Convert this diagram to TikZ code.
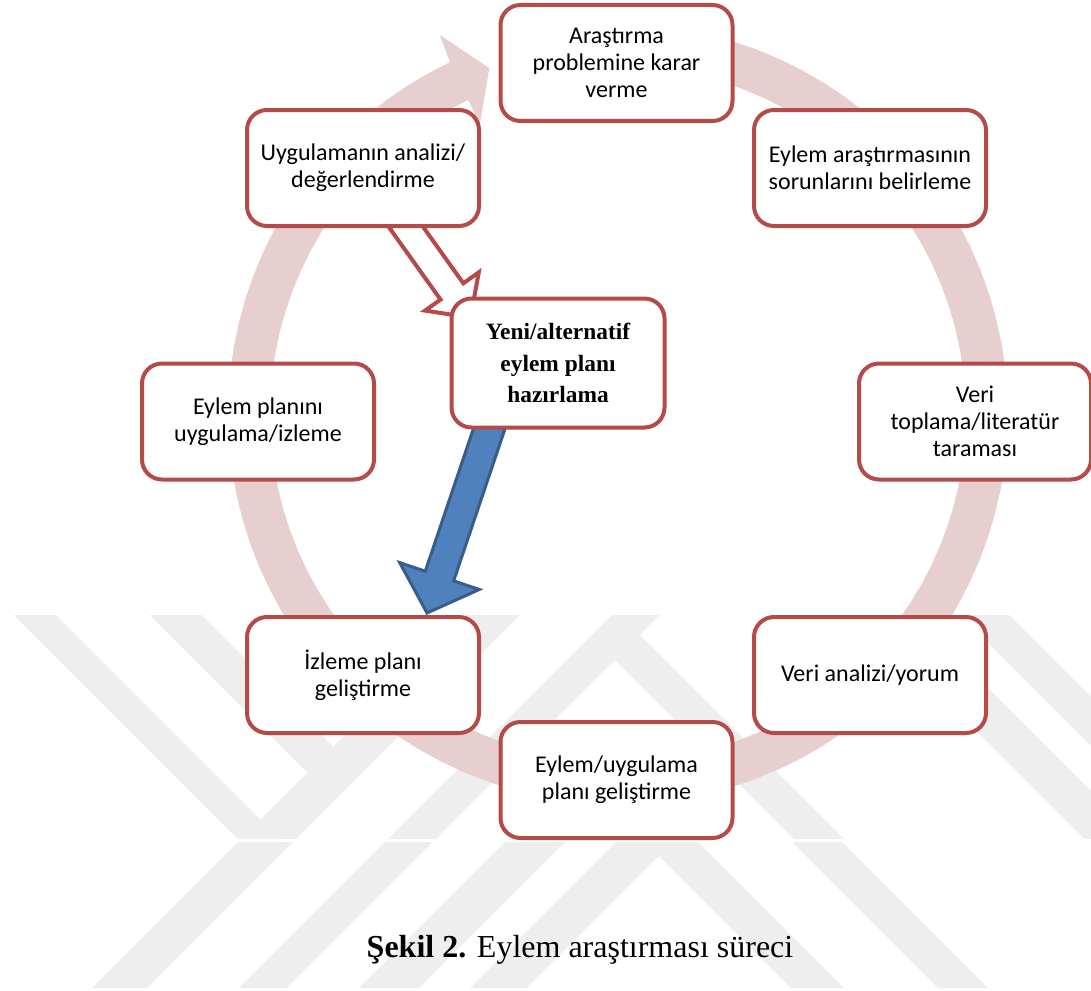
\documentclass[tikz,border=0pt]{standalone}
\usepackage{fontspec}
\setmainfont{Liberation Serif}
\newfontfamily\stepfont{Carlito}
\usetikzlibrary{calc,backgrounds}
\definecolor{cRing}{HTML}{E7CFD0}
\definecolor{cBorder}{HTML}{B44B48}
\definecolor{cBlue}{HTML}{4F81BD}
\definecolor{cBlueEdge}{HTML}{385D8A}
\definecolor{cMark}{HTML}{EEEEEE}
\tikzset{
  stepbox/.style={draw=cBorder, fill=white, line width=2pt, rounded corners=10pt,
                  minimum width=116pt, minimum height=58pt, inner sep=2pt,
                  align=center, font=\stepfont\fontsize{12}{13.6}\selectfont},
  centerbox/.style={stepbox, minimum width=106.5pt, minimum height=64.5pt,
                    font=\bfseries\fontsize{11.7}{15.7}\selectfont},
  hollowArrow/.style={draw=cBorder, fill=white, line width=2pt, line join=miter},
  blueArrow/.style={draw=cBlueEdge, fill=cBlue, line width=1.5pt, line join=miter},
  ringband/.style={fill=cRing},
  wmstripe/.style={fill=cMark},
  capline/.style={font=\fontsize{16}{19}\selectfont},
}

\begin{document}
\begin{tikzpicture}[x=0.5pt, y=-0.5pt]
\useasboundingbox (0,0) rectangle (1091,990);

% ========== STEPS ON THE CYCLE ==========
\coordinate (orbit) at (616.5,421.5);
\foreach \ang/\nm/\txt in {
   -90/sA/{Araştırma\\problemine karar\\verme},
   -45/sB/{Eylem araştırmasının\\sorunlarını belirleme},
     0/sC/{Veri\\toplama/literatür\\taraması},
    45/sD/{Veri analizi/yorum},
    90/sE/{Eylem/uygulama\\planı geliştirme},
   135/sF/{İzleme planı\\geliştirme},
   180/sG/{Eylem planını\\uygulama/izleme},
   225/sH/{Uygulamanın analizi/\\değerlendirme}}
  \node[stepbox] (\nm) at ($(orbit)+(\ang:358.5)$) {\txt};

% centre step
\node[centerbox] (mid) at (558,363) {Yeni/alternatif\\eylem planı\\hazırlama};

% caption
\node[capline] (cap) at (580,950) {\textbf{Şekil 2.} Eylem araştırması süreci};

\begin{scope}[on background layer]
  % ========== WATERMARK ==========
  \begin{scope}
    \clip (0,615) rectangle (1091,839);
    \foreach \a/\b in {1080/1135, 1227/1275}
      \fill[wmstripe] ({\a-615},615) -- ({\b-615},615) -- ({\b-839},839) -- ({\a-839},839) -- cycle;
    \foreach \a/\b in {-601/-559, 245/300, 345/394}
      \fill[wmstripe] ({\a+615},615) -- ({\b+615},615) -- ({\b+839},839) -- ({\a+839},839) -- cycle;
    \fill[wmstripe] (150,615) -- (202,615) -- (333.5,746.5) -- (307.5,772.5) -- cycle;
    \fill[wmstripe] (615,660) -- (640,635) -- (844,839) -- (794,839) -- cycle;
  \end{scope}
  \begin{scope}
    \clip (0,842) rectangle (1091,988);
    \foreach \a/\b in {1080/1135, 1227/1275, 1347/1407, 1458/1515}
      \fill[wmstripe] ({\a-842},842) -- ({\b-842},842) -- ({\b-988},988) -- ({\a-988},988) -- cycle;
    \foreach \a/\b in {-197/-144, -50/0}
      \fill[wmstripe] ({\a+842},842) -- ({\b+842},842) -- ({\b+988},988) -- ({\a+988},988) -- cycle;
  \end{scope}

  % ========== CIRCULAR ARROW ==========
  \begin{scope}[shift={(618,414)}]
    \fill[ringband] plot[domain=-80:244.5, samples=90] (\x:390)
      -- (244.8:419) -- (249.6:369) -- (244.5:321)
      -- plot[domain=244.5:-80, samples=90] (\x:348) -- cycle;
  \end{scope}

  % hollow arrow: analysis -> new plan
  \coordinate (hTail) at ($(sH.south)+(38,-8)$);
  \coordinate (hTip) at ($(mid.north west)+(21,21)$);
  \coordinate (hBase) at ($(hTip)!16pt!(hTail)$);
  \draw[hollowArrow] ($(hTail)!7pt!90:(hTip)$) -- ($(hBase)!7pt!90:(hTip)$)
    -- ($(hBase)!16.5pt!90:(hTip)$) -- (hTip) -- ($(hBase)!16.5pt!-90:(hTip)$)
    -- ($(hBase)!7pt!-90:(hTip)$) -- ($(hTail)!7pt!-90:(hTip)$) -- cycle;

  % blue arrow: new plan -> monitoring plan
  \coordinate (bTail) at ($(mid.south)+(-65,-12)$);
  \coordinate (bTip) at ($(sF.north)+(64,-2)$);
  \coordinate (bBase) at ($(bTip)!19.5pt!(bTail)$);
  \draw[blueArrow] ($(bTail)!7.5pt!90:(bTip)$) -- ($(bBase)!7.5pt!90:(bTip)$)
    -- ($(bBase)!21pt!90:(bTip)$) -- (bTip) -- ($(bBase)!21pt!-90:(bTip)$)
    -- ($(bBase)!7.5pt!-90:(bTip)$) -- ($(bTail)!7.5pt!-90:(bTip)$) -- cycle;
\end{scope}

\end{tikzpicture}
\end{document}
